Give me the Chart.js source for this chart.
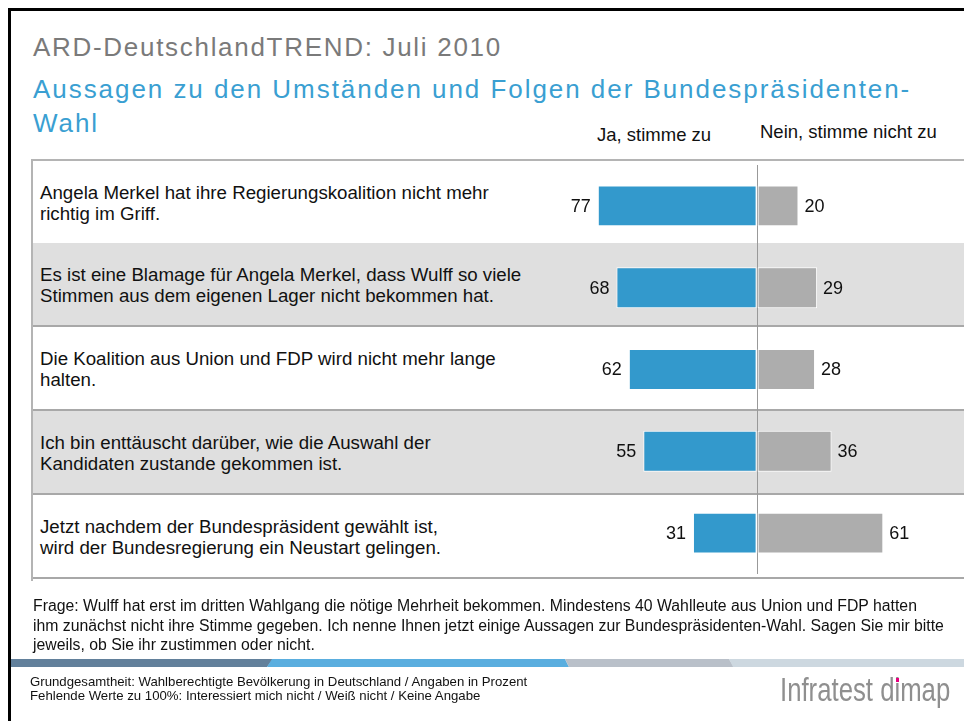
<!DOCTYPE html>
<html>
<head>
<meta charset="utf-8">
<script src="https://cdn.jsdelivr.net/npm/chart.js@4"></script>
<style>
  body { margin: 0; background: #fff; font-family: "Liberation Sans", Arial, sans-serif; }
  #page { position: relative; width: 964px; height: 721px; overflow: hidden; background: #fff; }
  .abs { position: absolute; white-space: nowrap; }
  #frameTop { left: 8px; top: 8px; width: 956px; height: 3px; background: #000; }
  #frameLeft { left: 8px; top: 8px; width: 3px; height: 713px; background: #000; }
  #title { left: 33px; top: 32px; font-size: 26px; line-height: 30px; letter-spacing: 1.7px; color: #7a7a7a; }
  #subtitle { left: 33px; top: 72px; font-size: 26px; line-height: 34px; letter-spacing: 1.95px; color: #3a9fd2; }
  .colhead { font-size: 18.5px; line-height: 20px; color: #111; }
  #table { left: 31px; top: 159px; width: 933px; height: 422px; border-top: 2px solid #b4b4b4; border-left: 2px solid #b4b4b4; box-sizing: border-box; }
  .row { position: absolute; left: 0; width: 100%; border-bottom: 2px solid #a8a8a8; box-sizing: border-box; }
  .row.alt { background: #dfdfdf; }
  .rowlabel { position: absolute; left: 7px; font-size: 18.7px; line-height: 21px; color: #111; white-space: nowrap; }
  #chart { position: absolute; left: 0; top: 0; }
  #frage { left: 33px; top: 596px; font-size: 15.8px; line-height: 19.5px; color: #111; }
  .band { top: 659px; height: 8px; }
  #foot { left: 30px; top: 675px; font-size: 13.2px; line-height: 13.5px; color: #111; }
  #logo { left: 780px; top: 671px; font-size: 33px; line-height: 38px; color: #8f8f8f; transform: scaleX(0.78); transform-origin: 0 0; }
  #logoDot { left: 896px; top: 678px; width: 3px; height: 4px; background: #e6007e; }
</style>
</head>
<body>
<div id="page">
  <div id="frameTop" class="abs"></div>
  <div id="frameLeft" class="abs"></div>
  <div id="title" class="abs">ARD-DeutschlandTREND: Juli 2010</div>
  <div id="subtitle" class="abs">Aussagen zu den Umständen und Folgen der Bundespräsidenten-<br>Wahl</div>
  <div class="abs colhead" style="left:597px; top:125px;">Ja, stimme zu</div>
  <div class="abs colhead" style="left:760px; top:122px;">Nein, stimme nicht zu</div>
  <div id="table" class="abs"></div>
  <canvas id="chart" width="964" height="721"></canvas>
  <div id="frage" class="abs">Frage: Wulff hat erst im dritten Wahlgang die nötige Mehrheit bekommen. Mindestens 40 Wahlleute aus Union und FDP hatten<br>ihm zunächst nicht ihre Stimme gegeben. Ich nenne Ihnen jetzt einige Aussagen zur Bundespräsidenten-Wahl. Sagen Sie mir bitte<br>jeweils, ob Sie ihr zustimmen oder nicht.</div>
  <div class="abs band" style="left:11px; width:262px; background:#62809b; clip-path: polygon(0 0, 100% 0, 256px 100%, 0 100%);"></div>
  <div class="abs band" style="left:267px; width:302px; background:#5aaedf; clip-path: polygon(5px 0, 298px 0, 100% 100%, 0 100%);"></div>
  <div class="abs band" style="left:565px; width:169px; background:#b9c0c9; clip-path: polygon(0 0, 164px 0, 100% 100%, 4px 100%);"></div>
  <div class="abs band" style="left:729px; width:235px; background:#cdd8e0; clip-path: polygon(0 0, 100% 0, 100% 100%, 4px 100%);"></div>
  <div id="foot" class="abs">Grundgesamtheit: Wahlberechtigte Bevölkerung in Deutschland / Angaben in Prozent<br>Fehlende Werte zu 100%: Interessiert mich nicht / Weiß nicht / Keine Angabe</div>
  <div id="logo" class="abs">Infratest dimap</div>
  <div id="logoDot" class="abs"></div>
</div>
<script>
// Data
const statements = [
  ['Angela Merkel hat ihre Regierungskoalition nicht mehr', 'richtig im Griff.'],
  ['Es ist eine Blamage für Angela Merkel, dass Wulff so viele', 'Stimmen aus dem eigenen Lager nicht bekommen hat.'],
  ['Die Koalition aus Union und FDP wird nicht mehr lange', 'halten.'],
  ['Ich bin enttäuscht darüber, wie die Auswahl der', 'Kandidaten zustande gekommen ist.'],
  ['Jetzt nachdem der Bundespräsident gewählt ist,', 'wird der Bundesregierung ein Neustart gelingen.']
];
const jaValues = [77, 68, 62, 55, 31];
const neinValues = [20, 29, 28, 36, 61];

const BLUE = '#3399cc';
const GREY = '#adadad';

// Table rows behind the chart
const table = document.getElementById('table');
const ROW_H = 84;
statements.forEach((lines, i) => {
  const row = document.createElement('div');
  row.className = 'row' + (i % 2 === 1 ? ' alt' : '');
  row.style.top = (i === 0 ? -2 : i * ROW_H - 2) + 'px';
  row.style.height = (ROW_H + (i === 0 ? 2 : 0)) + 'px';
  const lab = document.createElement('div');
  lab.className = 'rowlabel';
  lab.style.top = (ROW_H / 2 - 19 - (i === 0 ? 0 : 2)) + 'px';
  lab.innerHTML = lines.join('<br>');
  row.appendChild(lab);
  table.appendChild(row);
});

// Value labels next to bars
const valueLabels = {
  id: 'valueLabels',
  afterDatasetsDraw(chart) {
    const ctx = chart.ctx;
    ctx.save();
    ctx.font = '18px "Liberation Sans", Arial, sans-serif';
    ctx.fillStyle = '#111';
    ctx.textBaseline = 'middle';
    chart.data.datasets.forEach((ds, di) => {
      chart.getDatasetMeta(di).data.forEach((bar, i) => {
        const v = Math.abs(ds.data[i]);
        if (di === 0) {
          ctx.textAlign = 'right';
          ctx.fillText(v, bar.x - 7, bar.y + 1);
        } else {
          ctx.textAlign = 'left';
          ctx.fillText(v, bar.x + 6, bar.y + 1);
        }
      });
    });
    ctx.restore();
  }
};

new Chart(document.getElementById('chart').getContext('2d'), {
  type: 'bar',
  data: {
    labels: statements.map(s => s.join(' ')),
    datasets: [
      { label: 'Ja, stimme zu', data: jaValues.map(v => -v), backgroundColor: BLUE, borderColor: '#fff', borderWidth: 1, borderSkipped: false },
      { label: 'Nein, stimme nicht zu', data: neinValues, backgroundColor: GREY, borderColor: '#fff', borderWidth: 1, borderSkipped: false }
    ]
  },
  options: {
    indexAxis: 'y',
    responsive: false,
    animation: false,
    layout: { padding: { left: 33, right: 0, top: 165, bottom: 147 } },
    plugins: { legend: { display: false }, tooltip: { enabled: false } },
    datasets: { bar: { barPercentage: 0.5, categoryPercentage: 1 } },
    scales: {
      x: {
        stacked: true,
        min: -350,
        max: 100,
        ticks: { display: false, stepSize: 50 },
        border: { display: false },
        grid: {
          drawTicks: false,
          color: c => (c.tick && c.tick.value === 0 ? '#999' : 'rgba(0,0,0,0)'),
          lineWidth: 1
        }
      },
      y: { stacked: true, display: false }
    }
  },
  plugins: [valueLabels]
});
</script>
</body>
</html>
